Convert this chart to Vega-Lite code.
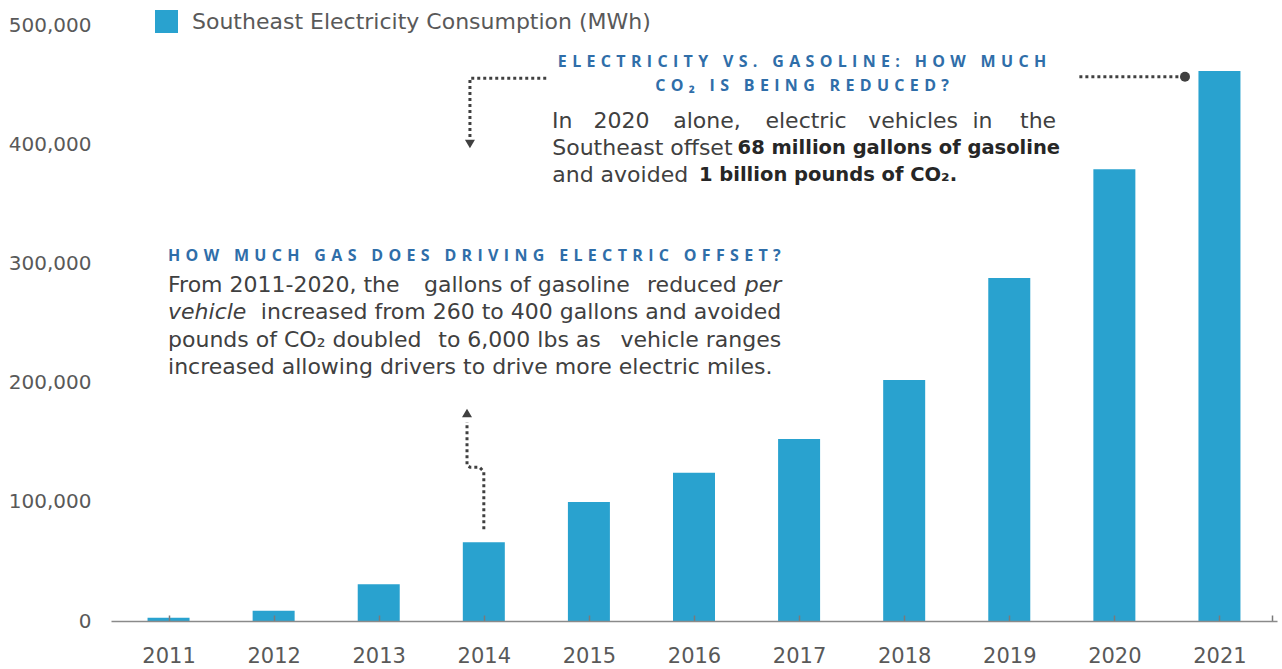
{
  "$schema": "https://vega.github.io/schema/vega-lite/v6.json",
  "width": 1166,
  "height": 596,
  "autosize": {"type": "none"},
  "padding": {"left": 111, "top": 25, "right": 5, "bottom": 48},
  "background": "white",
  "config": {"view": {"stroke": null}, "font": "DejaVu Sans"},
  "resolve": {"axis": {"x": "independent", "y": "independent"}},
  "datasets": {
    "consumption": [
      {"year": 2011, "mwh": 2800, "series": "Southeast Electricity Consumption (MWh)"},
      {"year": 2012, "mwh": 8600, "series": "Southeast Electricity Consumption (MWh)"},
      {"year": 2013, "mwh": 30800, "series": "Southeast Electricity Consumption (MWh)"},
      {"year": 2014, "mwh": 66000, "series": "Southeast Electricity Consumption (MWh)"},
      {"year": 2015, "mwh": 99800, "series": "Southeast Electricity Consumption (MWh)"},
      {"year": 2016, "mwh": 124400, "series": "Southeast Electricity Consumption (MWh)"},
      {"year": 2017, "mwh": 152700, "series": "Southeast Electricity Consumption (MWh)"},
      {"year": 2018, "mwh": 202200, "series": "Southeast Electricity Consumption (MWh)"},
      {"year": 2019, "mwh": 287700, "series": "Southeast Electricity Consumption (MWh)"},
      {"year": 2020, "mwh": 378900, "series": "Southeast Electricity Consumption (MWh)"},
      {"year": 2021, "mwh": 461400, "series": "Southeast Electricity Consumption (MWh)"}
    ],
    "heading_center": [
      {"x": 2017.028, "y": 469000, "text": "E\u2004L\u2004E\u2004C\u2004T\u2004R\u2004I\u2004C\u2004I\u2004T\u2004Y\u2004\u00a0\u2004V\u2004S\u2004.\u2004\u00a0\u2004G\u2004A\u2004S\u2004O\u2004L\u2004I\u2004N\u2004E\u2004:\u2004\u00a0\u2004H\u2004O\u2004W\u2004\u00a0\u2004M\u2004U\u2004C\u2004H"},
      {"x": 2017.028, "y": 448800, "text": "C\u2004O\u2004\u2082\u2004\u00a0\u2004I\u2004S\u2004\u00a0\u2004B\u2004E\u2004I\u2004N\u2004G\u2004\u00a0\u2004R\u2004E\u2004D\u2004U\u2004C\u2004E\u2004D\u2004?"}
    ],
    "heading_left": [
      {"x": 2010.995, "y": 306200, "text": "H\u2004O\u2004W\u2004\u00a0\u2004M\u2004U\u2004C\u2004H\u2004\u00a0\u2004G\u2004A\u2004S\u2004\u00a0\u2004D\u2004O\u2004E\u2004S\u2004\u00a0\u2004D\u2004R\u2004I\u2004V\u2004I\u2004N\u2004G\u2004\u00a0\u2004E\u2004L\u2004E\u2004C\u2004T\u2004R\u2004I\u2004C\u2004\u00a0\u2004O\u2004F\u2004F\u2004S\u2004E\u2004T\u2004?"}
    ],
    "body_left": [
      {"x": 2010.995, "y": 281900, "text": "From 2011-2020, the"},
      {"x": 2010.995, "y": 235700, "text": "pounds of CO\u2082 doubled"},
      {"x": 2010.995, "y": 213100, "text": "increased allowing drivers to drive more electric miles."},
      {"x": 2014.651, "y": 396800, "text": "Southeast offset"},
      {"x": 2014.651, "y": 374200, "text": "and avoided"}
    ],
    "body_right": [
      {"x": 2016.406, "y": 281900, "text": "reduced"},
      {"x": 2016.83, "y": 259200, "text": "increased from 260 to 400 gallons and avoided"},
      {"x": 2016.83, "y": 235700, "text": "vehicle ranges"}
    ],
    "body_center": [
      {"x": 2014.41, "y": 281900, "text": "gallons of gasoline"},
      {"x": 2014.34, "y": 235700, "text": "to 6,000 lbs as"},
      {"x": 2014.745, "y": 419500, "text": "In"},
      {"x": 2015.311, "y": 419500, "text": "2020"},
      {"x": 2016.123, "y": 419500, "text": "alone,"},
      {"x": 2017.066, "y": 419500, "text": "electric"},
      {"x": 2018.085, "y": 419500, "text": "vehicles"},
      {"x": 2018.745, "y": 419500, "text": "in"},
      {"x": 2019.274, "y": 419500, "text": "the"}
    ],
    "italic_left": [
      {"x": 2010.995, "y": 259200, "text": "vehicle"}
    ],
    "italic_right": [
      {"x": 2016.83, "y": 281900, "text": "per"}
    ],
    "bold_left": [
      {"x": 2016.047, "y": 374200, "text": "1 billion pounds of CO\u2082."},
      {"x": 2016.415, "y": 396800, "text": "68 million gallons of gasoline"}
    ],
    "leaders": [
      {"path": "A", "o": 1, "x": 2014.594, "y": 455300},
      {"path": "A", "o": 2, "x": 2013.868, "y": 455300},
      {"path": "A", "o": 3, "x": 2013.868, "y": 406000},
      {"path": "B", "o": 1, "x": 2019.667, "y": 456600},
      {"path": "B", "o": 2, "x": 2020.62, "y": 456600},
      {"path": "C", "o": 1, "x": 2014.0, "y": 76900},
      {"path": "C", "o": 2, "x": 2014.0, "y": 125300},
      {"path": "C", "o": 3, "x": 2013.96, "y": 128900},
      {"path": "C", "o": 4, "x": 2013.87, "y": 128900},
      {"path": "C", "o": 5, "x": 2013.84, "y": 130500},
      {"path": "C", "o": 6, "x": 2013.84, "y": 167000}
    ],
    "markers": [
      {"x": 2013.868, "y": 400200, "kind": "down"},
      {"x": 2013.84, "y": 174500, "kind": "up"},
      {"x": 2020.672, "y": 456600, "kind": "end"}
    ]
  },
  "layer": [
    {
      "data": {"name": "consumption"},
      "mark": {"type": "bar", "size": 42},
      "encoding": {
        "x": {
          "field": "year", "type": "quantitative",
          "scale": {"domain": [2010.5, 2021.5], "nice": false, "zero": false},
          "axis": {
            "title": null,
            "values": [2011, 2012, 2013, 2014, 2015, 2016, 2017, 2018, 2019, 2020, 2021, 2021.5],
            "labelExpr": "datum.value == 2021.5 ? '' : format(datum.value, 'd')",
            "labelFont": "DejaVu Sans", "labelFontSize": 21, "labelColor": "#595959",
            "labelFlush": false, "labelOverlap": false, "labelPadding": 30,
            "tickSize": -6, "tickColor": "#7a7a7a", "tickWidth": 1.5,
            "domainColor": "#8a8a8a", "domainWidth": 1.5,
            "grid": false, "zindex": 1
          }
        },
        "y": {
          "field": "mwh", "type": "quantitative",
          "scale": {"domain": [0, 500000], "nice": false},
          "axis": {
            "title": null,
            "values": [0, 100000, 200000, 300000, 400000, 500000],
            "labelExpr": "format(datum.value, ',')",
            "domain": false, "ticks": false, "grid": false,
            "labelFont": "DejaVu Sans", "labelFontSize": 20, "labelColor": "#595959",
            "labelPadding": 20
          }
        },
        "color": {
          "field": "series", "type": "nominal",
          "scale": {"range": ["#29a2cf"]},
          "legend": {
            "title": null, "orient": "none", "legendX": 44, "legendY": -15,
            "symbolType": "square", "symbolSize": 529, "symbolStrokeWidth": 0,
            "labelFont": "DejaVu Sans", "labelFontSize": 22, "labelColor": "#595959",
            "labelOffset": 14, "labelLimit": 0, "padding": 0
          }
        }
      }
    },
    {
      "data": {"name": "leaders"},
      "mark": {"type": "line", "color": "#404040", "strokeWidth": 3, "strokeDash": [3, 3], "strokeCap": "butt", "interpolate": "linear"},
      "encoding": {
        "x": {"field": "x", "type": "quantitative", "scale": {"domain": [2010.5, 2021.5], "nice": false, "zero": false}, "axis": null},
        "y": {"field": "y", "type": "quantitative", "scale": {"domain": [0, 500000], "nice": false}, "axis": null},
        "detail": {"field": "path", "type": "nominal"},
        "order": {"field": "o", "type": "quantitative"}
      }
    },
    {
      "data": {"name": "markers"},
      "mark": {"type": "point", "filled": true, "opacity": 1, "color": "#404040", "size": 100},
      "encoding": {
        "x": {"field": "x", "type": "quantitative", "scale": {"domain": [2010.5, 2021.5], "nice": false, "zero": false}, "axis": null},
        "y": {"field": "y", "type": "quantitative", "scale": {"domain": [0, 500000], "nice": false}, "axis": null},
        "shape": {"field": "kind", "type": "nominal", "scale": {"domain": ["down", "up", "end"], "range": ["triangle-down", "triangle-up", "circle"]}, "legend": null}
      }
    },
    {
      "data": {"name": "heading_center"},
      "mark": {"type": "text", "font": "Open Sans", "fontWeight": "bold", "fontSize": 16, "color": "#2f6ea9", "align": "center", "baseline": "middle"},
      "encoding": {
        "x": {"field": "x", "type": "quantitative", "scale": {"domain": [2010.5, 2021.5], "nice": false, "zero": false}, "axis": null},
        "y": {"field": "y", "type": "quantitative", "scale": {"domain": [0, 500000], "nice": false}, "axis": null},
        "text": {"field": "text"}
      }
    },
    {
      "data": {"name": "heading_left"},
      "mark": {"type": "text", "font": "Open Sans", "fontWeight": "bold", "fontSize": 16, "color": "#2f6ea9", "align": "left", "baseline": "middle"},
      "encoding": {
        "x": {"field": "x", "type": "quantitative", "scale": {"domain": [2010.5, 2021.5], "nice": false, "zero": false}, "axis": null},
        "y": {"field": "y", "type": "quantitative", "scale": {"domain": [0, 500000], "nice": false}, "axis": null},
        "text": {"field": "text"}
      }
    },
    {
      "data": {"name": "body_left"},
      "mark": {"type": "text", "font": "DejaVu Sans", "fontSize": 22, "color": "#404040", "align": "left", "baseline": "middle"},
      "encoding": {
        "x": {"field": "x", "type": "quantitative", "scale": {"domain": [2010.5, 2021.5], "nice": false, "zero": false}, "axis": null},
        "y": {"field": "y", "type": "quantitative", "scale": {"domain": [0, 500000], "nice": false}, "axis": null},
        "text": {"field": "text"}
      }
    },
    {
      "data": {"name": "body_right"},
      "mark": {"type": "text", "font": "DejaVu Sans", "fontSize": 22, "color": "#404040", "align": "right", "baseline": "middle"},
      "encoding": {
        "x": {"field": "x", "type": "quantitative", "scale": {"domain": [2010.5, 2021.5], "nice": false, "zero": false}, "axis": null},
        "y": {"field": "y", "type": "quantitative", "scale": {"domain": [0, 500000], "nice": false}, "axis": null},
        "text": {"field": "text"}
      }
    },
    {
      "data": {"name": "body_center"},
      "mark": {"type": "text", "font": "DejaVu Sans", "fontSize": 22, "color": "#404040", "align": "center", "baseline": "middle"},
      "encoding": {
        "x": {"field": "x", "type": "quantitative", "scale": {"domain": [2010.5, 2021.5], "nice": false, "zero": false}, "axis": null},
        "y": {"field": "y", "type": "quantitative", "scale": {"domain": [0, 500000], "nice": false}, "axis": null},
        "text": {"field": "text"}
      }
    },
    {
      "data": {"name": "italic_left"},
      "mark": {"type": "text", "font": "DejaVu Sans", "fontStyle": "italic", "fontSize": 22, "color": "#404040", "align": "left", "baseline": "middle"},
      "encoding": {
        "x": {"field": "x", "type": "quantitative", "scale": {"domain": [2010.5, 2021.5], "nice": false, "zero": false}, "axis": null},
        "y": {"field": "y", "type": "quantitative", "scale": {"domain": [0, 500000], "nice": false}, "axis": null},
        "text": {"field": "text"}
      }
    },
    {
      "data": {"name": "italic_right"},
      "mark": {"type": "text", "font": "DejaVu Sans", "fontStyle": "italic", "fontSize": 22, "color": "#404040", "align": "right", "baseline": "middle"},
      "encoding": {
        "x": {"field": "x", "type": "quantitative", "scale": {"domain": [2010.5, 2021.5], "nice": false, "zero": false}, "axis": null},
        "y": {"field": "y", "type": "quantitative", "scale": {"domain": [0, 500000], "nice": false}, "axis": null},
        "text": {"field": "text"}
      }
    },
    {
      "data": {"name": "bold_left"},
      "mark": {"type": "text", "font": "DejaVu Sans", "fontWeight": "bold", "fontSize": 19.5, "color": "#262626", "align": "left", "baseline": "middle"},
      "encoding": {
        "x": {"field": "x", "type": "quantitative", "scale": {"domain": [2010.5, 2021.5], "nice": false, "zero": false}, "axis": null},
        "y": {"field": "y", "type": "quantitative", "scale": {"domain": [0, 500000], "nice": false}, "axis": null},
        "text": {"field": "text"}
      }
    }
  ]
}
